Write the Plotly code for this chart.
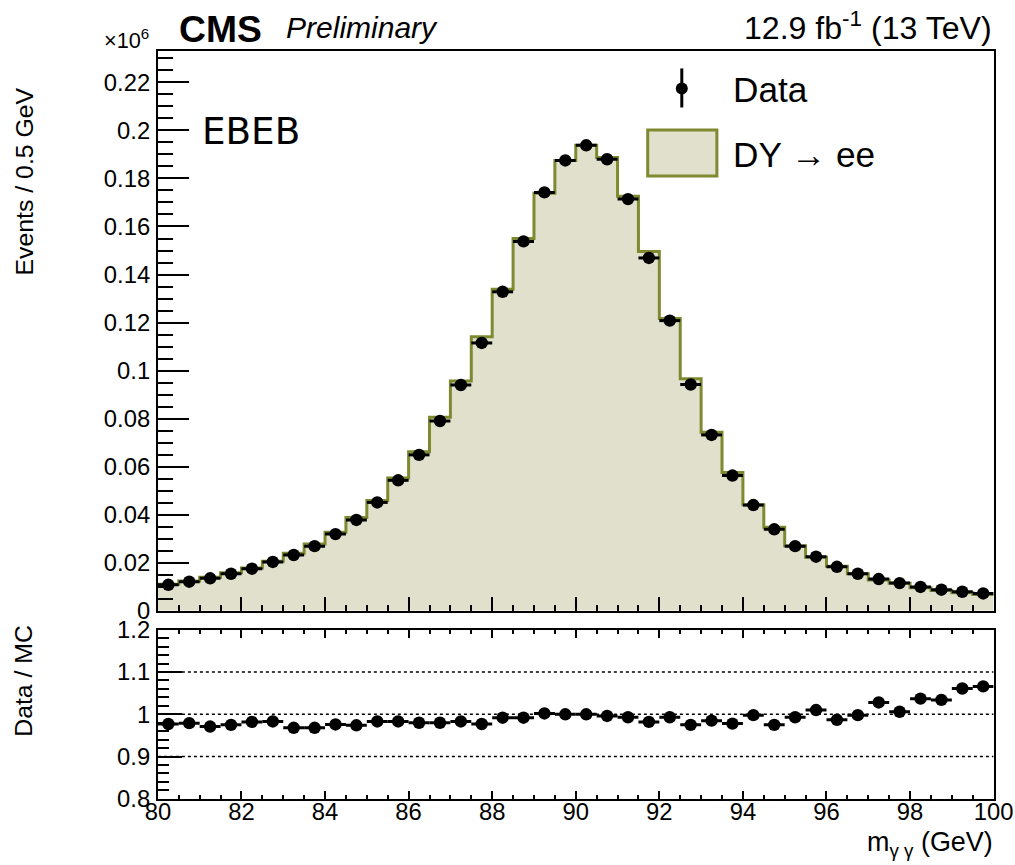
import plotly.graph_objects as go

# ---------------- data (Events in units of 10^6, per 0.5 GeV bin) ----------------
bin_edges = [80.0 + 0.5 * i for i in range(41)]
bin_centers = [80.25 + 0.5 * i for i in range(40)]

data_events = [0.0108, 0.0121, 0.0135, 0.0154, 0.0175, 0.0203, 0.0232, 0.0269, 0.0319, 0.0378,
               0.0451, 0.0543, 0.0649, 0.0790, 0.0940, 0.1115, 0.1328, 0.1538, 0.1742, 0.1875,
               0.1938, 0.1880, 0.1714, 0.1469, 0.1208, 0.0942, 0.0732, 0.0563, 0.0440, 0.0339,
               0.0269, 0.0225, 0.0183, 0.0154, 0.0132, 0.0115, 0.0099, 0.00875, 0.0079, 0.0072]

dy_ee_mc = [0.01105, 0.01236, 0.01390, 0.01579, 0.01782, 0.02065, 0.02397, 0.02779, 0.03268, 0.03881,
            0.04588, 0.05524, 0.06622, 0.08061, 0.09563, 0.11413, 0.13387, 0.15504, 0.17385, 0.18750,
            0.19380, 0.18876, 0.17261, 0.14959, 0.12165, 0.09662, 0.07431, 0.05757, 0.04409, 0.03477,
            0.02709, 0.02228, 0.01854, 0.01543, 0.01284, 0.01143, 0.00955, 0.00846, 0.00745, 0.00675]

ratio_data_mc = [0.977, 0.979, 0.971, 0.975, 0.982, 0.983, 0.968, 0.968, 0.976, 0.974,
                 0.983, 0.983, 0.980, 0.980, 0.983, 0.977, 0.992, 0.992, 1.002, 1.000,
                 1.000, 0.996, 0.993, 0.982, 0.993, 0.975, 0.985, 0.978, 0.998, 0.975,
                 0.993, 1.010, 0.987, 0.998, 1.028, 1.006, 1.037, 1.034, 1.061, 1.066]

half_width = [0.25] * 40
ratio_lines = [0.9, 1.0, 1.1]

# ---------------- layout geometry ----------------
# the page is shown slightly scaled and offset; positions below are given in
# picture pixels and converted to figure pixels.
W, H = 1051, 895
SX, SY = 0.966, 0.9693
AX, AY = 14.0, 13.6

def px(x):
    return ((x - AX) / SX) / W

def py(y):
    return 1 - ((y - AY) / SY) / H

def fs(v):
    return v / SX

X_L, X_R = 158.5, 992
TOP_T, TOP_B = 51, 610
BOT_T, BOT_B = 629, 798

FILL = "#e0e0cc"
EDGE = "#7f8a30"
FONT = "Liberation Sans, Arial, sans-serif"

fig = go.Figure()

fig.add_trace(go.Scatter(
    x=bin_edges, y=dy_ee_mc + [dy_ee_mc[-1]],
    mode="lines", line=dict(shape="hv", color=EDGE, width=3),
    fill="tozeroy", fillcolor=FILL, xaxis="x", yaxis="y",
    showlegend=False, hoverinfo="skip"))

fig.add_trace(go.Scatter(
    x=bin_centers, y=data_events, mode="markers",
    marker=dict(color="black", size=fs(12)),
    error_x=dict(type="data", array=half_width, thickness=3, width=0, color="black"),
    xaxis="x", yaxis="y", showlegend=False))

fig.add_trace(go.Scatter(
    x=bin_centers, y=ratio_data_mc, mode="markers",
    marker=dict(color="black", size=fs(12)),
    error_x=dict(type="data", array=half_width, thickness=3, width=0, color="black"),
    xaxis="x2", yaxis="y2", showlegend=False))

shapes = []
for v in ratio_lines:
    shapes.append(dict(type="line", xref="x2", yref="y2", x0=80, x1=100, y0=v, y1=v,
                       line=dict(color="black", width=1.5, dash="dot"), layer="below"))

# legend glyphs
shapes.append(dict(type="line", xref="paper", yref="paper",
                   x0=px(681), x1=px(681), y0=py(68), y1=py(107),
                   line=dict(color="black", width=3)))
shapes.append(dict(type="circle", xref="paper", yref="paper",
                   x0=px(675), x1=px(687), y0=py(82), y1=py(94),
                   fillcolor="black", line=dict(color="black", width=0)))
shapes.append(dict(type="rect", xref="paper", yref="paper",
                   x0=px(647), x1=px(716), y0=py(129.5), y1=py(175.5),
                   fillcolor=FILL, line=dict(color=EDGE, width=3)))

annotations = [
    dict(text="<b>CMS</b>", x=px(178), y=py(29), xanchor="left", yanchor="middle",
         font=dict(family=FONT, size=fs(36), color="black")),
    dict(text="<i>Preliminary</i>", x=px(284), y=py(27), xanchor="left", yanchor="middle",
         font=dict(family=FONT, size=fs(29), color="black")),
    dict(text="12.9 fb<sup>-1</sup> (13 TeV)", x=px(992), y=py(26), xanchor="right", yanchor="middle",
         font=dict(family=FONT, size=fs(31), color="black")),
    dict(text="×10<sup>6</sup>", x=px(152), y=py(39), xanchor="right", yanchor="middle",
         font=dict(family=FONT, size=fs(21), color="black")),
    dict(text="EBEB", x=px(200), y=py(131), xanchor="left", yanchor="middle",
         font=dict(family="DejaVu Sans", size=fs(36), color="black")),
    dict(text="Data", x=px(730), y=py(89), xanchor="left", yanchor="middle",
         font=dict(family=FONT, size=fs(34), color="black")),
    dict(text="DY → ee", x=px(730), y=py(154), xanchor="left", yanchor="middle",
         font=dict(family=FONT, size=fs(34), color="black")),
    dict(text="Events / 0.5 GeV", x=px(25), y=py(181), xanchor="center", yanchor="middle",
         textangle=-90, font=dict(family=FONT, size=fs(24), color="black")),
    dict(text="Data / MC", x=px(25), y=py(680), xanchor="center", yanchor="middle",
         textangle=-90, font=dict(family=FONT, size=fs(24), color="black")),
    dict(text="m<sub>γ γ</sub> (GeV)", x=px(993), y=py(843), xanchor="right", yanchor="middle",
         font=dict(family=FONT, size=fs(26), color="black")),
]
for a in annotations:
    a.update(xref="paper", yref="paper", showarrow=False)

axis_common = dict(showline=True, linecolor="black", linewidth=2, showgrid=False,
                   zeroline=False, ticks="inside", tickcolor="black", tickwidth=2,
                   tickfont=dict(family=FONT, size=fs(23), color="black"))

fig.update_layout(
    width=W, height=H, margin=dict(l=0, r=0, t=0, b=0),
    paper_bgcolor="white", plot_bgcolor="white",
    showlegend=False, shapes=shapes, annotations=annotations,
    xaxis=dict(domain=[px(X_L), px(X_R)], range=[80, 100], anchor="y",
               dtick=2, tick0=80, ticklen=fs(13), showticklabels=False, mirror=True,
               minor=dict(dtick=0.5, ticklen=fs(6), ticks="inside", tickcolor="black", tickwidth=2),
               **axis_common),
    yaxis=dict(domain=[py(TOP_B), py(TOP_T)], range=[0, 0.2329], anchor="x",
               dtick=0.02, tick0=0, ticklen=fs(30), mirror=True, ticklabelstandoff=1,
               minor=dict(dtick=0.005, ticklen=fs(15), ticks="inside", tickcolor="black", tickwidth=2),
               **axis_common),
    xaxis2=dict(domain=[px(X_L), px(X_R)], range=[80, 100], anchor="y2",
                dtick=2, tick0=80, ticklen=fs(8), mirror="allticks", ticklabelstandoff=-9,
                minor=dict(dtick=0.5, ticklen=fs(4), ticks="inside", tickcolor="black", tickwidth=2),
                **axis_common),
    yaxis2=dict(domain=[py(BOT_B), py(BOT_T)], range=[0.8, 1.2], anchor="x2",
                dtick=0.1, tick0=0.8, ticklen=fs(23), mirror=True, ticklabelstandoff=1,
                minor=dict(dtick=0.02, ticklen=fs(11), ticks="inside", tickcolor="black", tickwidth=2),
                **axis_common),
)

fig.write_html("out.html")
